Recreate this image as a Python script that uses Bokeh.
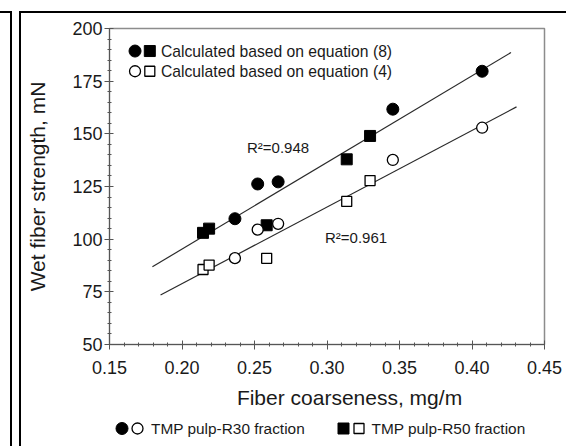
from bokeh.plotting import figure
from bokeh.layouts import column
from bokeh.models import Range1d, FixedTicker, Label, PrintfTickFormatter, Title
from bokeh.core.properties import value
from bokeh.embed import file_html
from bokeh.resources import INLINE

# ---------------- data ----------------
r30_coarseness = [0.2365, 0.2522, 0.2663, 0.3454, 0.4070]
r30_strength_eq8 = [109.7, 126.2, 127.2, 161.7, 179.7]
r30_strength_eq4 = [91.0, 104.5, 107.3, 137.6, 152.9]

r50_coarseness = [0.2145, 0.2187, 0.2584, 0.3136, 0.3297]
r50_strength_eq8 = [103.0, 105.0, 106.6, 137.9, 149.0]
r50_strength_eq4 = [85.6, 87.7, 90.9, 117.9, 127.8]

fit_eq8_x = [0.1796, 0.4269]
fit_eq8_y = [86.9, 188.6]
fit_eq4_x = [0.1852, 0.4307]
fit_eq4_y = [73.5, 162.8]

r2_eq8 = "R\u00b2=0.948"
r2_eq4 = "R\u00b2=0.961"

legend_eq8 = "Calculated based on equation (8)"
legend_eq4 = "Calculated based on equation (4)"
legend_r30 = "TMP pulp-R30 fraction"
legend_r50 = "TMP pulp-R50 fraction"
x_title = "Fiber coarseness, mg/m"
y_title = "Wet fiber strength, mN"

x_ticks = [0.15, 0.20, 0.25, 0.30, 0.35, 0.40, 0.45]
y_ticks = [50, 75, 100, 125, 150, 175, 200]

# ---------------- layout constants ----------------
W, H = 566, 446
FL, FT, FR, FB = 109, 28, 544, 344
MAIN_H = 384
FONT = "Liberation Sans"
TXT = "#1a1a1a"

p = figure(width=W, height=MAIN_H, output_backend="svg", toolbar_location=None,
           x_range=Range1d(0.15, 0.45), y_range=Range1d(50, 200),
           min_border_left=FL, min_border_right=W - FR,
           min_border_top=FT, min_border_bottom=MAIN_H - FB)
p.grid.visible = False
p.outline_line_color = "#8c8c8c"
p.outline_line_width = 1.5
p.background_fill_color = "white"
p.border_fill_alpha = 0

for ax in (p.xaxis[0], p.yaxis[0]):
    ax.axis_line_color = "#555555"
    ax.major_tick_line_color = "#555555"
    ax.minor_tick_line_color = "#555555"
    ax.major_tick_in = 4
    ax.major_tick_out = 5
    ax.minor_tick_in = 2
    ax.minor_tick_out = 2
    ax.major_label_text_font = FONT
    ax.major_label_text_font_size = "18px"
    ax.major_label_text_color = TXT

p.xaxis[0].ticker = FixedTicker(ticks=x_ticks,
                                minor_ticks=[round(0.15 + 0.01 * i, 2) for i in range(31)])
p.xaxis[0].formatter = PrintfTickFormatter(format="%.2f")
p.xaxis[0].major_label_standoff = 11

p.yaxis[0].ticker = FixedTicker(ticks=y_ticks, minor_ticks=list(range(50, 201, 5)))
p.yaxis[0].formatter = PrintfTickFormatter(format="%d")
p.yaxis[0].major_label_standoff = 2

p.add_layout(Title(text=y_title, align="center", offset=9, standoff=41,
                   text_font=FONT, text_font_size="21px", text_font_style="normal",
                   text_color=TXT), "left")

# regression lines
p.line(fit_eq8_x, fit_eq8_y, line_color="#2a2a2a", line_width=1.2)
p.line(fit_eq4_x, fit_eq4_y, line_color="#2a2a2a", line_width=1.2)

# points
p.scatter(r30_coarseness, r30_strength_eq8, marker="circle", size=12,
          fill_color="black", line_color="black")
p.scatter(r50_coarseness, r50_strength_eq8, marker="square", size=11,
          fill_color="black", line_color="black")
p.scatter(r30_coarseness, r30_strength_eq4, marker="circle", size=11,
          fill_color="white", line_color="black", line_width=1.3)
p.scatter(r50_coarseness, r50_strength_eq4, marker="square", size=10,
          fill_color="white", line_color="black", line_width=1.3)

# R^2 annotations
p.add_layout(Label(x=0.2448, y=143.7, text=r2_eq8, text_font=FONT, text_font_size="15px",
                   text_color=TXT, text_baseline="middle"))
p.add_layout(Label(x=0.2986, y=100.7, text=r2_eq4, text_font=FONT, text_font_size="15px",
                   text_color=TXT, text_baseline="middle"))

# inner legend (top-left)
leg_y = [189.3, 179.7]
p.scatter([0.1676], [leg_y[0]], marker="circle", size=12, fill_color="black", line_color="black")
p.scatter([0.1778], [leg_y[0]], marker="square", size=11, fill_color="black", line_color="black")
p.scatter([0.1676], [leg_y[1]], marker="circle", size=11, fill_color="white",
          line_color="black", line_width=1.3)
p.scatter([0.1778], [leg_y[1]], marker="square", size=10, fill_color="white",
          line_color="black", line_width=1.3)
for yy, t in zip(leg_y, [legend_eq8, legend_eq4]):
    p.add_layout(Label(x=0.1855, y=yy, text=t, text_font=FONT, text_font_size="15.7px",
                       text_color=TXT, text_baseline="middle"))

# ---------------- bottom strip: x title + series key ----------------
# (its frame is aligned with the main frame by the column layout, so the
#  x range is expressed in page pixels between FL and FR)
BH = H - MAIN_H
b = figure(width=W, height=BH, output_backend="svg", toolbar_location=None,
           x_range=Range1d(FL, FR), y_range=Range1d(BH, 0),
           x_axis_type=None, y_axis_type=None,
           min_border_left=FL, min_border_right=W - FR,
           min_border_top=0, min_border_bottom=0)
b.grid.visible = False
b.outline_line_color = None
b.background_fill_alpha = 0
b.border_fill_alpha = 0

b.text(x=[349], y=[397 - MAIN_H], text=[x_title], text_font=value(FONT),
       text_font_size="21px", text_color=TXT, text_align="center", text_baseline="middle")
ky = 428 - MAIN_H
b.scatter([121.5], [ky], marker="circle", size=12, fill_color="black", line_color="black")
b.scatter([137], [ky], marker="circle", size=11, fill_color="white", line_color="black", line_width=1.3)
b.scatter([343], [ky], marker="square", size=11, fill_color="black", line_color="black")
b.scatter([358.5], [ky], marker="square", size=10, fill_color="white", line_color="black", line_width=1.3)
b.text(x=[150.5, 371], y=[ky, ky], text=[legend_r30, legend_r50], text_font=value(FONT),
       text_font_size="15.4px", text_color=TXT, text_align="left", text_baseline="middle")

page_borders = {
    "background-color": "white",
    "background-image": ", ".join(["linear-gradient(#000, #000)"] * 4),
    "background-size": "2px 435px, 12px 2px, 2px 435px, 547px 2px",
    "background-position": "10px 11px, 0px 11px, 19px 11px, 19px 11px",
    "background-repeat": "no-repeat",
}
layout = column(p, b, spacing=0, styles=page_borders)

open("out.html", "w").write(file_html(layout, INLINE))
